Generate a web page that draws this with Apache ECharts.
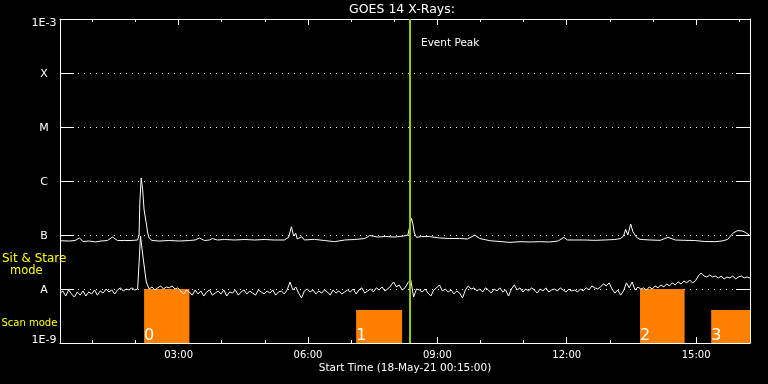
<!DOCTYPE html>
<html><head><meta charset="utf-8">
<script src="https://cdn.jsdelivr.net/npm/echarts@6/dist/echarts.min.js"></script>
<style>html,body{margin:0;padding:0;background:#000}#c{width:768px;height:384px}</style>
</head><body><div id="c"></div>
<script>
// Units: flux values are stored in 1e-9 W/m^2; times in minutes since 00:00 (18-May-21)
const UNIT = 1e-9;
const xMin = 15, xMax = 975;
const majorTicks = [180, 360, 540, 720, 900];
const minorTicks = [60, 120, 240, 300, 420, 480, 600, 660, 780, 840, 960];
const yTickLabels = ['1E-9', 'A', 'B', 'C', 'M', 'X', '1E-3'];

// GOES long channel (1-8 A)
const upperTimes = [15,28,36,42,47,56,64,72,81,88,95,105,114,123,125,126,128,130,132,135,137,139,143,153,167,181,195,203,209,216,223,227,234,244,258,272,286,299,313,327,333,337,340,343,345,351,355,369,383,397,411,425,439,446,457,468,481,493,499,501,504,506,508,511,518,529,543,557,571,582,592,599,613,627,641,655,669,682,696,708,716,721,731,745,759,773,787,795,799,802,805,809,812,817,822,836,850,861,871,884,898,912,926,936,944,951,957,964,969,974,975];
const upperValues = [78.4,77.4,79,88,75.8,77.4,74.2,77.4,79,91.7,79,79,79,80.8,99.5,388,1138,684,290,167,109,88,79,77.4,79,77.4,79,80.8,88,79,80.8,86,80.8,82.5,80.8,82.5,80.8,82.5,80.8,80.8,90.5,142,95.8,108,84.3,92.9,80.8,83,79,75.2,80.8,82.5,86.1,98,91.7,93.6,91.7,95.8,99.5,134,203,160,109,90.5,93.6,93.6,88,86.1,86.1,84.3,99.5,86.1,78.4,75.8,73,75.2,74.2,75.2,74.2,77.4,90.5,80.8,80.8,80.8,79.7,80.8,82.5,86.1,95.8,127,99.5,160,115,90.5,83,80.8,79.7,90.5,80.8,79.7,79,75.8,75.2,77.4,83,107,120,119,111,99.5,95.8];

// GOES short channel (0.5-4 A), one value every 4 minutes from 00:15
const lowerStart = 15, lowerStep = 4;
const lowerValues = [
8.4,9.2,7.4,9.6,8.1,7.1,8.8,7.7,9.2,7.4,
8.8,8.1,9.6,7.7,9.2,8.4,10.0,8.8,9.6,8.1,
9.6,10.5,9.2,10.0,9.6,10.5,9.6,10.0,
95.8,34.4,13.5,
10.0,10.9,9.6,10.5,11.4,10.0,10.9,10.5,11.4,10.0,10.5,9.2,8.1,9.6,
8.8,7.7,9.6,8.1,9.2,7.4,8.8,9.6,7.7,8.4,9.2,8.1,9.6,7.4,8.8,8.4,9.6,7.7,
8.8,9.6,8.1,9.2,8.4,7.7,9.6,8.8,8.1,9.2,8.4,9.6,7.7,8.8,9.2,8.1,9.6,
13.5,9.6,10.9,8.4,6.8,9.2,
10.0,8.8,9.6,8.1,9.2,8.4,9.6,8.8,7.7,9.6,8.4,9.2,8.1,8.8,9.6,
8.8,10.0,8.1,9.6,10.5,8.4,9.2,10.0,8.8,10.5,9.6,10.9,9.2,10.0,11.4,
13.5,10.9,11.9,9.6,10.5,13.0,14.7,7.1,10.0,
9.6,8.8,10.0,8.4,7.4,9.6,10.5,11.9,9.2,10.0,8.8,9.6,8.1,9.2,8.4,6.8,
9.6,11.4,10.0,10.5,9.2,10.0,8.8,10.5,9.6,8.4,10.0,9.2,10.5,8.8,9.6,7.4,10.0,11.9,9.6,10.5,
8.8,10.0,9.2,10.5,9.6,8.4,10.0,9.2,10.5,8.8,9.6,10.0,9.2,10.5,9.6,8.8,10.0,9.2,9.6,8.8,
10.0,9.2,10.5,9.6,11.4,10.5,10.0,
10.9,12.4,11.4,13.0,10.0,8.4,9.6,7.7,9.2,13.0,10.5,13.5,9.6,
10.9,10.0,10.5,9.6,10.9,10.0,11.4,10.5,11.9,10.9,12.4,11.4,13.0,11.9,13.5,12.4,14.1,13.0,14.7,13.0,14.1,
17.4,19.8,17.4,16.7,18.1,16.7,17.4,16.0,17.4,15.3,16.7,16.0,17.4,15.3,16.7,17.4,16.0,16.7,16.0
];

// Observation mode intervals (Sit & Stare = 10, Scan = 4.1)
const modeStarts = [132, 427, 822, 921];
const modeEnds = [195, 491, 884, 975];
const modeLevels = [10, 4.1, 10, 4.1];
const modeLabels = ['0', '1', '2', '3'];

const eventPeakTime = 502;

const FONT = 'DejaVu Sans';
const pad = n => (n < 10 ? '0' : '') + n;
const fmtTime = v => pad(Math.floor(v / 60)) + ':' + pad(Math.round(v % 60));

const upperData = upperTimes.map((t, i) => [t, upperValues[i] * UNIT]);
const lowerData = lowerValues.map((v, i) => [lowerStart + i * lowerStep, v * UNIT]);
const modeData = modeStarts.map((s, i) => [s, modeEnds[i], modeLevels[i] * UNIT, modeLabels[i]]);

const chart = echarts.init(document.getElementById('c'), null, {renderer: 'canvas'});

function xAx(pos, ticks, len, showLine, showLabel) {
  return {
    type: 'value', position: pos, min: xMin, max: xMax,
    axisLine: {show: showLine, onZero: false, lineStyle: {color: '#fff', width: 1}},
    axisTick: {show: true, inside: true, length: len, customValues: ticks, lineStyle: {color: '#fff', width: 1}},
    axisLabel: {show: showLabel, customValues: ticks, formatter: fmtTime, color: '#fff', fontFamily: FONT, fontSize: 10, margin: 7},
    splitLine: {show: false}
  };
}
const richBase = {color: '#fff', fontFamily: FONT, fontSize: 11};
function yAx(pos, showLabel, showSplit) {
  return {
    type: 'log', logBase: 10, position: pos, min: 1e-9, max: 1e-3, interval: 1, splitNumber: 6,
    axisLine: {show: true, onZero: false, lineStyle: {color: '#fff', width: 1}},
    axisTick: {show: true, inside: true, length: 14, lineStyle: {color: '#fff', width: 1}},
    axisLabel: {show: showLabel, color: '#fff', fontFamily: FONT, fontSize: 11, margin: 16, align: 'center',
      formatter: v => {
        const e = Math.round(Math.log10(v));
        const t = yTickLabels[e + 9] || '';
        if (e === -3) return '{mx|' + t + '}';
        if (e === -9) return '{mn|' + t + '}';
        return '{n|' + t + '}';
      },
      rich: {
        n: Object.assign({padding: [2, 0, 0, 0]}, richBase),
        mx: Object.assign({padding: [9, 0, 0, 0]}, richBase),
        mn: Object.assign({padding: [0, 0, 6, 0]}, richBase)
      }
    },
    splitLine: {show: showSplit, lineStyle: {color: '#fff', width: 1, type: [1, 5]}},
    minorTick: {show: false}, minorSplitLine: {show: false}
  };
}

chart.setOption({
  backgroundColor: '#000',
  animation: false,
  grid: {left: 60, right: 18, top: 19, bottom: 41, containLabel: false},
  xAxis: [
    xAx('bottom', majorTicks, 6, true, true),
    xAx('bottom', minorTicks, 3, false, false),
    xAx('top', majorTicks, 6, true, false),
    xAx('top', minorTicks, 3, false, false)
  ],
  yAxis: [yAx('left', true, true), yAx('right', false, false)],
  graphic: [
    {type: 'text', x: 402, y: 10, style: {text: 'GOES 14 X-Rays:', fill: '#fff', font: '12.5px DejaVu Sans', align: 'center', verticalAlign: 'middle'}},
    {type: 'text', x: 405, y: 368.5, style: {text: 'Start Time (18-May-21 00:15:00)', fill: '#fff', font: '10.5px DejaVu Sans', align: 'center', verticalAlign: 'middle'}},
    {type: 'text', x: 421, y: 43.5, style: {text: 'Event Peak', fill: '#fff', font: '10.5px DejaVu Sans', align: 'left', verticalAlign: 'middle'}},
    {type: 'text', x: 2, y: 259, style: {text: 'Sit & Stare', fill: '#ffff00', font: '12px DejaVu Sans', align: 'left', verticalAlign: 'middle'}},
    {type: 'text', x: 10, y: 271, style: {text: 'mode', fill: '#ffff00', font: '11.5px DejaVu Sans', align: 'left', verticalAlign: 'middle'}},
    {type: 'text', x: 1.5, y: 323.5, style: {text: 'Scan mode', fill: '#ffff00', font: '10px DejaVu Sans', align: 'left', verticalAlign: 'middle'}}
  ],
  series: [
    {
      type: 'custom', xAxisIndex: 0, yAxisIndex: 0, data: modeData, clip: true, z: 1,
      encode: {x: [0, 1], y: 2},
      renderItem: function (params, api) {
        const tl = api.coord([api.value(0), api.value(2)]);
        const br = api.coord([api.value(1), 1e-9]);
        return {
          type: 'group',
          children: [
            {type: 'rect', shape: {x: tl[0], y: tl[1], width: br[0] - tl[0], height: br[1] - tl[1]}, style: {fill: '#ff8000'}},
            {type: 'text', style: {text: modeLabels[params.dataIndex], x: tl[0], y: br[1] + 0.5, fill: '#fff', font: '16px DejaVu Sans', align: 'left', verticalAlign: 'bottom'}}
          ]
        };
      }
    },
    {type: 'line', xAxisIndex: 0, yAxisIndex: 0, data: lowerData, showSymbol: false, symbol: 'none', z: 3,
      lineStyle: {color: '#fff', width: 1}},
    {type: 'line', xAxisIndex: 0, yAxisIndex: 0, data: upperData, showSymbol: false, symbol: 'none', z: 3,
      lineStyle: {color: '#fff', width: 1}},
    {type: 'line', xAxisIndex: 0, yAxisIndex: 0, data: [[eventPeakTime, 1e-9], [eventPeakTime, 1e-3]], showSymbol: false, symbol: 'none', z: 4,
      lineStyle: {color: '#99cc00', width: 2}}
  ]
});
</script>
</body></html>
